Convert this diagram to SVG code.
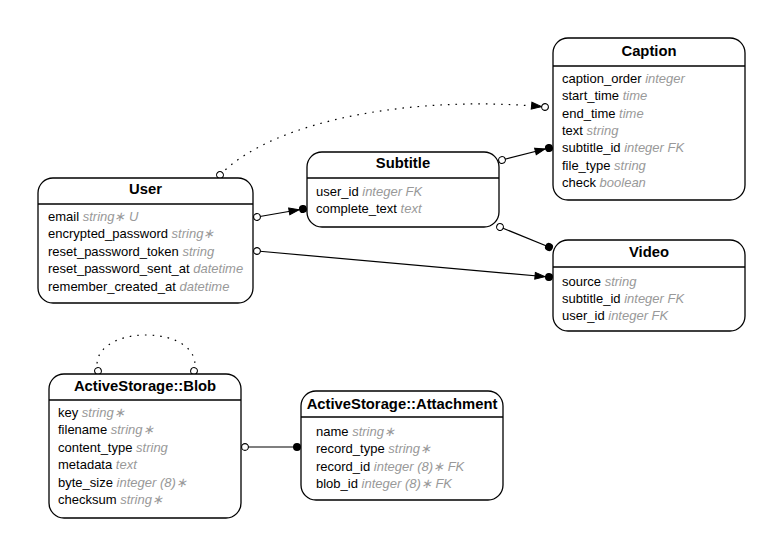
<svg xmlns="http://www.w3.org/2000/svg" width="783" height="557" viewBox="0 0 783 557">
  <style>
    .box { fill: #ffffff; stroke: #000000; stroke-width: 1.3; }
    .sep { stroke: #000000; stroke-width: 1.3; }
    .title { font-family: "Liberation Sans", Arial, sans-serif; font-size: 14.8px; font-weight: bold; fill: #000000; text-anchor: middle; }
    .row { font-family: "Liberation Sans", Arial, sans-serif; font-size: 13px; fill: #000000; }
    .type { font-style: italic; fill: #999999; }
    .edge { fill: none; stroke: #000000; stroke-width: 1.2; }
    .dotted { stroke-dasharray: 1.6 6; }
  </style>
  <defs>
    <!-- open circle at the tail of a relation -->
    <marker id="tail-o" markerUnits="userSpaceOnUse" markerWidth="12" markerHeight="12" refX="0" refY="0" viewBox="-6 -6 12 12" orient="auto" overflow="visible">
      <circle cx="0" cy="0" r="3.4" fill="#ffffff" stroke="#000000" stroke-width="1.1"/>
    </marker>
    <!-- filled dot only -->
    <marker id="head-dot" markerUnits="userSpaceOnUse" markerWidth="12" markerHeight="12" refX="0" refY="0" viewBox="-6 -6 12 12" orient="auto" overflow="visible">
      <circle cx="0" cy="0" r="4" fill="#000000"/>
    </marker>
    <!-- arrow followed by filled dot -->
    <marker id="head-arrow-dot" markerUnits="userSpaceOnUse" markerWidth="30" markerHeight="12" refX="0" refY="0" viewBox="-24 -6 30 12" orient="auto" overflow="visible">
      <polygon points="-14,-3.4 -4,0 -14,3.4" fill="#000000" stroke="#000000" stroke-width="1"/>
      <circle cx="0" cy="0" r="4" fill="#000000"/>
    </marker>
    <!-- arrow followed by open circle -->
    <marker id="head-arrow-o" markerUnits="userSpaceOnUse" markerWidth="30" markerHeight="12" refX="0" refY="0" viewBox="-24 -6 30 12" orient="auto" overflow="visible">
      <polygon points="-13.5,-3.4 -3.5,0 -13.5,3.4" fill="#000000" stroke="#000000" stroke-width="1"/>
      <circle cx="0" cy="0" r="3.4" fill="#ffffff" stroke="#000000" stroke-width="1.1"/>
    </marker>
  </defs>

  <!-- relations -->
  <g id="connectors">
    <path class="edge dotted" d="M220,175 C275,118 420,95 545,107" marker-start="url(#tail-o)" marker-end="url(#head-arrow-o)"/>
    <path class="edge" d="M257,217 L303,209" marker-start="url(#tail-o)" marker-end="url(#head-arrow-dot)"/>
    <path class="edge" d="M502,160 L549,148" marker-start="url(#tail-o)" marker-end="url(#head-arrow-dot)"/>
    <path class="edge" d="M500,227 L549,247" marker-start="url(#tail-o)" marker-end="url(#head-dot)"/>
    <path class="edge" d="M257,251 L549,277" marker-start="url(#tail-o)" marker-end="url(#head-arrow-dot)"/>
    <path class="edge dotted" d="M98,371 C92,350 115,335 146,335 C177,335 200,350 194,371" marker-start="url(#tail-o)" marker-end="url(#tail-o)"/>
    <path class="edge" d="M245,447 L297,447" marker-start="url(#tail-o)" marker-end="url(#head-dot)"/>
  </g>

  <!-- Caption -->
  <g id="caption">
    <rect class="box" x="553" y="38" width="192" height="162" rx="15"/>
    <line class="sep" x1="553" y1="66" x2="745" y2="66"/>
    <text class="title" x="649" y="56">Caption</text>
    <text class="row" x="562" y="82.5">caption_order <tspan class="type">integer</tspan></text>
    <text class="row" x="562" y="100">start_time <tspan class="type">time</tspan></text>
    <text class="row" x="562" y="117.5">end_time <tspan class="type">time</tspan></text>
    <text class="row" x="562" y="135">text <tspan class="type">string</tspan></text>
    <text class="row" x="562" y="152">subtitle_id <tspan class="type">integer FK</tspan></text>
    <text class="row" x="562" y="169.5">file_type <tspan class="type">string</tspan></text>
    <text class="row" x="562" y="187">check <tspan class="type">boolean</tspan></text>
  </g>

  <!-- User -->
  <g id="user">
    <rect class="box" x="38" y="178" width="215" height="125" rx="15"/>
    <line class="sep" x1="38" y1="204" x2="253" y2="204"/>
    <text class="title" x="145.5" y="194">User</text>
    <text class="row" x="48" y="220.5">email <tspan class="type">string∗ U</tspan></text>
    <text class="row" x="48" y="238">encrypted_password <tspan class="type">string∗</tspan></text>
    <text class="row" x="48" y="255.5">reset_password_token <tspan class="type">string</tspan></text>
    <text class="row" x="48" y="273">reset_password_sent_at <tspan class="type">datetime</tspan></text>
    <text class="row" x="48" y="290.5">remember_created_at <tspan class="type">datetime</tspan></text>
  </g>

  <!-- Subtitle -->
  <g id="subtitle">
    <rect class="box" x="307" y="152" width="192" height="75" rx="15"/>
    <line class="sep" x1="307" y1="178" x2="499" y2="178"/>
    <text class="title" x="403" y="168">Subtitle</text>
    <text class="row" x="316" y="195.5">user_id <tspan class="type">integer FK</tspan></text>
    <text class="row" x="316" y="213">complete_text <tspan class="type">text</tspan></text>
  </g>

  <!-- Video -->
  <g id="video">
    <rect class="box" x="553" y="240" width="192" height="91" rx="15"/>
    <line class="sep" x1="553" y1="267" x2="745" y2="267"/>
    <text class="title" x="649" y="257">Video</text>
    <text class="row" x="562" y="285.5">source <tspan class="type">string</tspan></text>
    <text class="row" x="562" y="302.5">subtitle_id <tspan class="type">integer FK</tspan></text>
    <text class="row" x="562" y="320">user_id <tspan class="type">integer FK</tspan></text>
  </g>

  <!-- ActiveStorage::Blob -->
  <g id="active-storage-blob">
    <rect class="box" x="49" y="374" width="192" height="144" rx="15"/>
    <line class="sep" x1="49" y1="400" x2="241" y2="400"/>
    <text class="title" x="145" y="391">ActiveStorage::Blob</text>
    <text class="row" x="58" y="416.5">key <tspan class="type">string∗</tspan></text>
    <text class="row" x="58" y="434">filename <tspan class="type">string∗</tspan></text>
    <text class="row" x="58" y="451.5">content_type <tspan class="type">string</tspan></text>
    <text class="row" x="58" y="469">metadata <tspan class="type">text</tspan></text>
    <text class="row" x="58" y="486.5">byte_size <tspan class="type">integer (8)∗</tspan></text>
    <text class="row" x="58" y="504">checksum <tspan class="type">string∗</tspan></text>
  </g>

  <!-- ActiveStorage::Attachment -->
  <g id="active-storage-attachment">
    <rect class="box" x="301" y="391" width="202" height="109" rx="15"/>
    <line class="sep" x1="301" y1="417" x2="503" y2="417"/>
    <text class="title" x="402" y="409">ActiveStorage::Attachment</text>
    <text class="row" x="316" y="435.5">name <tspan class="type">string∗</tspan></text>
    <text class="row" x="316" y="453">record_type <tspan class="type">string∗</tspan></text>
    <text class="row" x="316" y="470.5">record_id <tspan class="type">integer (8)∗ FK</tspan></text>
    <text class="row" x="316" y="488">blob_id <tspan class="type">integer (8)∗ FK</tspan></text>
  </g>
</svg>
